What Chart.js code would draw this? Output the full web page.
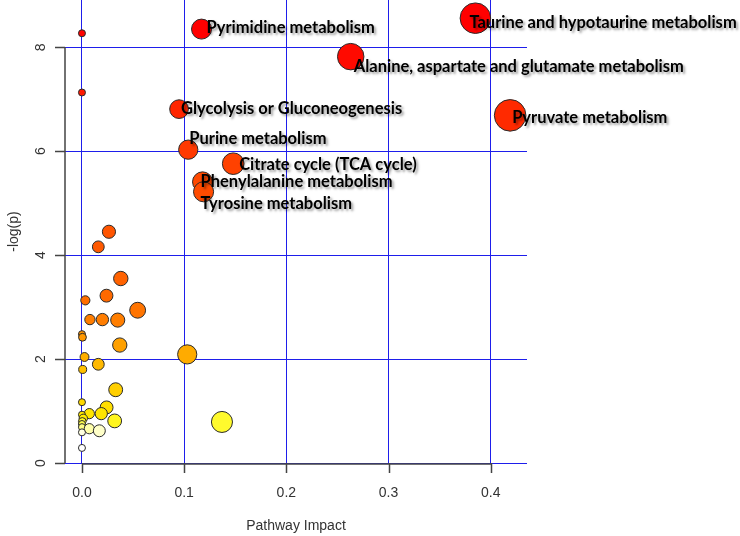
<!DOCTYPE html>
<html>
<head>
<meta charset="utf-8">
<script src="https://cdn.jsdelivr.net/npm/chart.js@4.4.1/dist/chart.umd.min.js"></script>
<style>
  html, body { margin: 0; padding: 0; background: #fff; }
  #wrap { width: 740px; height: 536px; }
</style>
</head>
<body>
<div id="wrap"><canvas id="impactChart"></canvas></div>
<script>
// pathway data, sorted by -log(p) descending (drawn in this order)
var pathwayNames = [
    'Taurine and hypotaurine metabolism', 'Pyrimidine metabolism', '',
    'Alanine, aspartate and glutamate metabolism', '', 'Glycolysis or Gluconeogenesis',
    'Pyruvate metabolism', 'Purine metabolism', 'Citrate cycle (TCA cycle)',
    'Phenylalanine metabolism', 'Tyrosine metabolism',
    '', '', '', '', '', '', '', '', '', '', '', '', '', '', '', '', '',
    '', '', '', '', '', '', '', '', '', '', '', '', '', '', ''
];
var pathwayImpact = [
    0.385, 0.117, 0, 0.263, 0, 0.095, 0.419, 0.104, 0.148, 0.118, 0.119,
    0.0264, 0.016, 0.038, 0.024, 0.0033, 0.0545, 0.0078, 0.020, 0.035, 0, 0.0005,
    0.037, 0.103, 0.0025, 0.016, 0.0007, 0.033, 0, 0.0241, 0.0072, 0.0189, 0,
    0.0013, 0.032, 0.0003, 0.137, 0, 0, 0.0072, 0.017, 0, 0
];
var pathwayLogP = [
    8.56, 8.35, 8.27, 7.82, 7.13, 6.81, 6.69, 6.03, 5.76, 5.41, 5.22,
    4.45, 4.16, 3.55, 3.22, 3.13, 2.94, 2.76, 2.76, 2.75, 2.48, 2.42,
    2.27, 2.09, 2.04, 1.90, 1.80, 1.41, 1.17, 1.07, 0.95, 0.95, 0.93,
    0.86, 0.81, 0.80, 0.79, 0.75, 0.69, 0.66, 0.62, 0.59, 0.29
];
var xTicks = [0, 0.1, 0.2, 0.3, 0.4];
var yTicks = [0, 2, 4, 6, 8];

// label placement tweaks (px) so text sits like the original
var labelNudge = {
    'Taurine and hypotaurine metabolism': [-6, 4],
    'Pyrimidine metabolism': [5, -1],
    'Alanine, aspartate and glutamate metabolism': [3, 10],
    'Glycolysis or Gluconeogenesis': [2, 0],
    'Pyruvate metabolism': [2, 2],
    'Purine metabolism': [1, -11],
    'Citrate cycle (TCA cycle)': [6, 1],
    'Phenylalanine metabolism': [-2, 0],
    'Tyrosine metabolism': [-3, 12]
};

// heat colour scale by -log(p)
var heatStops = [
    [0.29, [255, 255, 255]], [0.59, [255, 255, 225]], [0.66, [255, 255, 170]],
    [0.72, [255, 255, 100]], [0.79, [255, 250, 45]], [0.85, [255, 235, 0]],
    [1.2, [255, 215, 0]], [1.8, [255, 192, 0]], [2.1, [255, 170, 0]],
    [2.45, [255, 150, 0]], [2.8, [255, 122, 0]], [3.3, [255, 102, 0]],
    [4.5, [255, 84, 0]], [5.5, [255, 72, 0]], [6.0, [255, 58, 0]],
    [6.7, [255, 42, 0]], [7.2, [255, 22, 0]], [8.3, [255, 0, 0]]
];
function heatColor(v) {
    if (v <= heatStops[0][0]) return 'rgb(255,255,255)';
    for (var i = 1; i < heatStops.length; i++) {
        if (v <= heatStops[i][0]) {
            var a = heatStops[i - 1], b = heatStops[i];
            var t = (v - a[0]) / (b[0] - a[0]);
            var c = a[1].map(function(k, n) { return Math.round(k + (b[1][n] - k) * t); });
            return 'rgb(' + c.join(',') + ')';
        }
    }
    return 'rgb(255,0,0)';
}

var points = pathwayImpact.map(function(x, i) {
    return { x: x, y: pathwayLogP[i], name: pathwayNames[i] };
});

var axisFont = { family: 'Liberation Sans, Arial, sans-serif', size: 14 };
var gridBlue = 'rgb(30,30,235)';

var annotatePlugin = {
    id: 'annotate',
    beforeDatasetsDraw: function(chart) {
        var ctx = chart.ctx, xs = chart.scales.x, ys = chart.scales.y;
        var area = chart.chartArea;
        ctx.save();
        ctx.strokeStyle = '#444';
        ctx.lineWidth = 1.5;
        ctx.beginPath();
        // R style axis lines spanning the tick range, plus tick marks
        ctx.moveTo(area.left, ys.getPixelForValue(yTicks[yTicks.length - 1]));
        ctx.lineTo(area.left, ys.getPixelForValue(yTicks[0]));
        ctx.moveTo(xs.getPixelForValue(xTicks[0]), area.bottom + 1);
        ctx.lineTo(xs.getPixelForValue(xTicks[xTicks.length - 1]), area.bottom + 1);
        yTicks.forEach(function(v) {
            var y = Math.round(ys.getPixelForValue(v)) + 0.5;
            ctx.moveTo(area.left - 10, y);
            ctx.lineTo(area.left, y);
        });
        xTicks.forEach(function(v) {
            var x = Math.round(xs.getPixelForValue(v)) + 0.5;
            ctx.moveTo(x, area.bottom);
            ctx.lineTo(x, area.bottom + 10);
        });
        ctx.stroke();
        ctx.restore();
    },
    afterDatasetsDraw: function(chart) {
        var ctx = chart.ctx, xs = chart.scales.x, ys = chart.scales.y;
        ctx.save();
        ctx.font = 'bold 16.5px Lato, "Open Sans", sans-serif';
        ctx.textAlign = 'left';
        ctx.textBaseline = 'middle';
        ctx.fillStyle = '#000';
        ctx.shadowColor = 'rgba(0,0,0,0.4)';
        ctx.shadowOffsetX = 2;
        ctx.shadowOffsetY = 2;
        ctx.shadowBlur = 2.5;
        points.forEach(function(p) {
            if (!p.name) return;
            var nudge = labelNudge[p.name] || [2, 0];
            ctx.fillText(p.name, xs.getPixelForValue(p.x) + nudge[0], ys.getPixelForValue(p.y) + nudge[1]);
        });
        ctx.restore();
    }
};

new Chart(document.getElementById('impactChart'), {
    type: 'scatter',
    data: {
        datasets: [{
            data: points,
            clip: false,
            pointRadius: function(c) { return 3.5 + 19 * Math.sqrt(c.raw.x); },
            pointBackgroundColor: function(c) { return heatColor(c.raw.y); },
            pointBorderColor: '#2a2a2a',
            pointBorderWidth: 1
        }]
    },
    options: {
        responsive: true,
        maintainAspectRatio: false,
        animation: false,
        events: [],
        layout: { autoPadding: false, padding: { left: 0, right: 213, top: 0, bottom: 0 } },
        plugins: { legend: { display: false }, tooltip: { enabled: false } },
        scales: {
            x: {
                type: 'linear',
                min: -0.0166,
                max: 0.4355,
                afterFit: function(s) { s.height = 73; s.paddingLeft = 0; s.paddingRight = 0; },
                afterBuildTicks: function(s) { s.ticks = xTicks.map(function(v) { return { value: v }; }); },
                border: { display: false },
                grid: { color: gridBlue, lineWidth: 1, drawTicks: false },
                ticks: {
                    color: '#333', font: axisFont, padding: 22, maxRotation: 0,
                    callback: function(v) { return v.toFixed(1); }
                },
                title: { display: true, text: 'Pathway Impact', color: '#333', font: axisFont, padding: { top: 0, bottom: 1 } }
            },
            y: {
                type: 'linear',
                min: 0,
                max: 8.91,
                afterFit: function(s) { s.width = 65; s.paddingTop = 0; s.paddingBottom = 0; },
                afterBuildTicks: function(s) { s.ticks = yTicks.map(function(v) { return { value: v }; }); },
                border: { display: false },
                grid: { color: gridBlue, lineWidth: 1, drawTicks: false },
                ticks: {
                    color: '#333', font: axisFont, padding: 20, minRotation: 90, maxRotation: 90,
                    crossAlign: 'center'
                },
                title: { display: true, text: '-log(p)', color: '#333', font: axisFont, padding: { top: 6, bottom: 0 } }
            }
        }
    },
    plugins: [annotatePlugin]
});
</script>
</body>
</html>
